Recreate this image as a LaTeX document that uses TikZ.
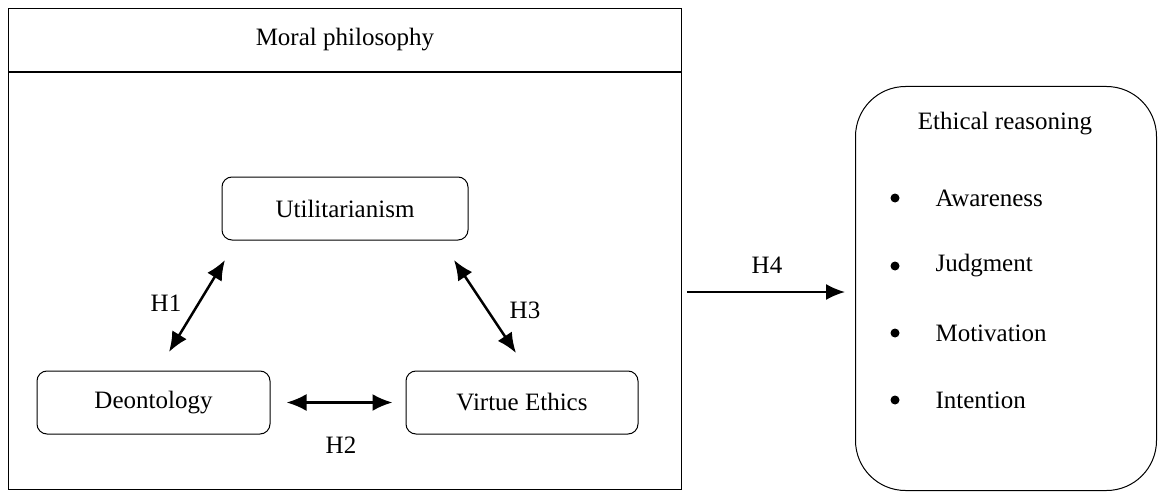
\documentclass[tikz,border=0pt]{standalone}
\usepackage{fontspec}
\setmainfont{Liberation Serif}
\usetikzlibrary{arrows.meta}

\tikzset{
  txt/.style={font=\fontsize{25}{30}\selectfont},
  theory/.style={draw, rounded corners=10pt, line width=1pt, minimum width=246pt, minimum height=63pt, txt},
  dot/.style={circle, fill, inner sep=0pt, minimum size=9pt},
  biarrow/.style={{Latex[length=20pt,width=17pt]}-{Latex[length=20pt,width=17pt]}, line width=2.5pt},
  onearrow/.style={-{Latex[length=19pt,width=16pt]}, line width=2pt}
}

\begin{document}
\begin{tikzpicture}[x=1pt,y=-1pt]
    \useasboundingbox (0,0) rectangle (1163,495);

    % moral philosophy frame
    \node[draw, line width=1.2pt, anchor=north west, minimum width=673pt, minimum height=481pt, inner sep=0pt] (frame) at (8,8) {};
    \draw[line width=1.2pt] (frame.west |- 0,72) -- (frame.east |- 0,72);
    \node[txt] (moral) at (345,40) {Moral philosophy};

    %%%%%%%%%%%%%%%%%%%%%%%%%%%%%%%%%%%%%%%%%%%%%%%%%%%%%%%%%

    % the three theories
    \node[theory] (util) at (345,208.5) {Utilitarianism};
    \node[theory, minimum width=233pt] (deon) at (153.5,402.5) {Deontology};
    \node[theory, minimum width=232pt] (virtue) at (522,402.5) {Virtue Ethics};

    % H1
    \coordinate (h1a) at (169,352);
    \coordinate (h1b) at (225,260);
    \draw[biarrow] (h1a) to (h1b);
    \node[txt] (h1) at (166,303) {H1};

    % H2
    \draw[biarrow, shorten <=16pt, shorten >=13pt] (deon.east) to (virtue.west);
    \node[txt] (h2) at (341,445) {H2};

    % H3
    \coordinate (h3a) at (454,260);
    \coordinate (h3b) at (516,353);
    \draw[biarrow] (h3a) to (h3b);
    \node[txt] (h3) at (525,310) {H3};

    %%%%%%%%%%%%%%%%%%%%%%%%%%%%%%%%%%%%%%%%%%%%%%%%%%%%%%%%%

    % ethical reasoning
    \node[draw, line width=1pt, rounded corners=50pt, anchor=north west, minimum width=301pt, minimum height=404pt, inner sep=0pt] (ethic) at (855,86) {};
    \node[txt] (ethtitle) at (1005,124) {Ethical reasoning};
    \foreach \name/\item/\y in {aware/Awareness/198, judge/Judgment/266, motiv/Motivation/333, inten/Intention/400}{
        \node[dot] (b\name) at (895,\y) {};
        \node[txt, anchor=west] (\name) at (932,\y) {\item};
    }

    % H4
    \draw[onearrow, shorten <=5pt, shorten >=10pt] (frame.east |- 0,292) to (ethic.west |- 0,292);
    \node[txt] (h4) at (767,265) {H4};

\end{tikzpicture}
\end{document}
